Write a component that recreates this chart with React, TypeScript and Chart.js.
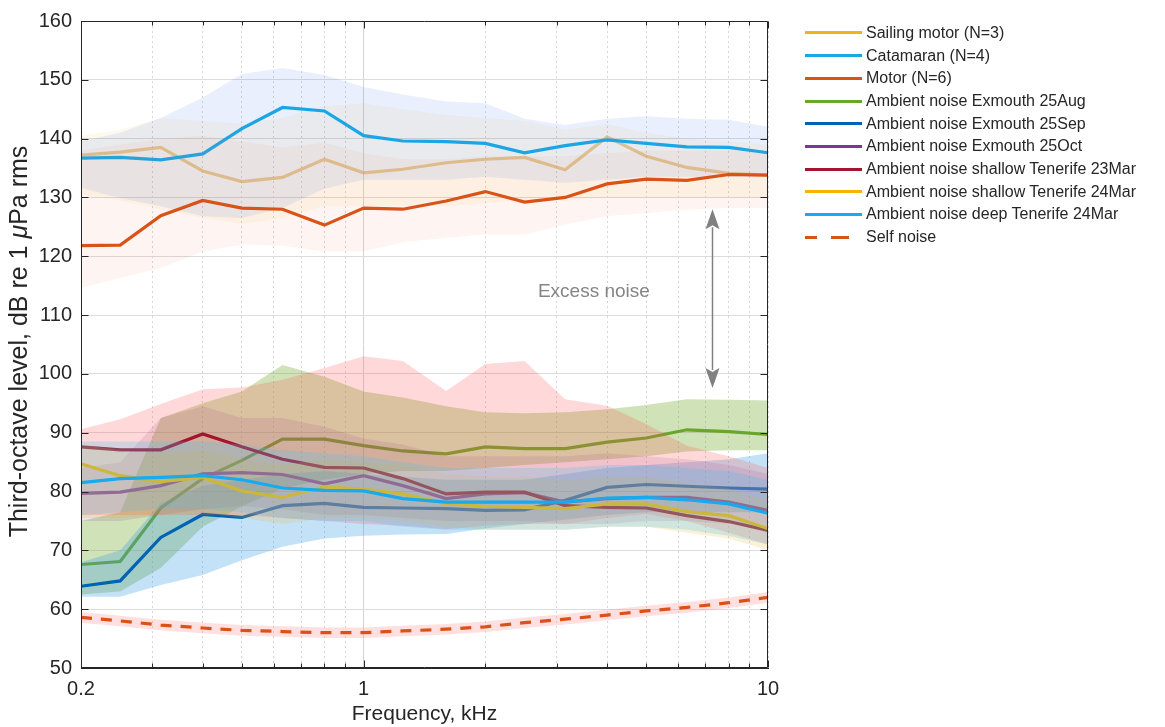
import React, { useEffect, useRef } from 'react';
import { Chart, registerables } from 'chart.js';

Chart.register(...registerables);

// Third-octave band centre frequencies, kHz
const freqKHz = [0.2, 0.25, 0.315, 0.4, 0.5, 0.63, 0.8, 1, 1.25, 1.6, 2, 2.5, 3.15, 4, 5, 6.3, 8, 10];

// Vessel recordings (median and spread), dB re 1 uPa rms
const sailingMotor = [137.2, 137.7, 138.5, 134.5, 132.7, 133.4, 136.5, 134.2, 134.8, 135.9, 136.5, 136.8, 134.7, 140.3, 137.0, 135.1, 134.1, 133.8];
const sailingMotorHi = [140.5, 141.5, 143.5, 143, 142.5, 143.5, 145.5, 146, 145, 144, 143.5, 143, 141.5, 142.5, 141, 140, 139.5, 139];
const sailingMotorLo = [130.5, 129.5, 128, 126.5, 125.5, 126.5, 128.5, 128.5, 128.5, 128.5, 129, 129.5, 129.5, 130, 130, 130, 130, 130];

const catamaran = [136.7, 136.8, 136.4, 137.4, 141.7, 145.3, 144.7, 140.5, 139.6, 139.5, 139.2, 137.6, 138.8, 139.8, 139.2, 138.6, 138.5, 137.6];
const catamaranHi = [139.5, 141, 143.5, 147, 151, 152, 150.8, 148.8, 147.5, 146.3, 146, 143.4, 142.3, 143.4, 143.8, 143.4, 143.2, 142];
const catamaranLo = [131.6, 129.9, 128.5, 126.8, 126.5, 128.2, 131.5, 133, 133, 133, 133.5, 133, 132.5, 133, 133.5, 133.5, 133.5, 133.5];

const motor = [121.8, 121.9, 126.9, 129.5, 128.2, 128.0, 125.3, 128.2, 128.0, 129.4, 131.0, 129.2, 130.0, 132.3, 133.1, 132.9, 133.9, 133.8];
const motorHi = [138, 139, 140, 140.5, 139.5, 138.5, 139.3, 137.5, 136.5, 136.5, 137, 137, 137, 137.5, 138, 138, 138, 138];
const motorLo = [114.6, 116.3, 118, 120.8, 122, 121.8, 120.8, 120.8, 122.4, 123.1, 123.7, 123.7, 125.4, 126.8, 127.3, 127.9, 128.2, 128.2];

// Ambient noise recordings
const exmouthAug = [67.6, 68.1, 77.2, 82.2, 85.3, 88.9, 88.9, 87.8, 86.9, 86.4, 87.6, 87.3, 87.3, 88.4, 89.1, 90.5, 90.2, 89.7];
const exmouthAugHi = [75, 76.5, 92.5, 95, 97, 101.5, 99.5, 97, 96, 94.5, 93.5, 93.3, 93.5, 94, 94.7, 95.7, 95.6, 95.5];
const exmouthAugLo = [62.5, 63, 67, 74, 77.5, 80.5, 82, 83, 83.5, 83.5, 84, 84.5, 85, 85.5, 86, 86.8, 87, 87];

const exmouthSep = [63.9, 64.8, 72.2, 76.1, 75.6, 77.6, 78.0, 77.3, 77.2, 77.1, 76.8, 76.9, 78.5, 80.7, 81.2, 80.9, 80.6, 80.4];
const exmouthSepHi = [68, 70, 78, 81, 82, 83, 83.5, 83, 82.5, 82, 82, 82, 83, 84, 84.5, 85, 85.5, 86.5];
const exmouthSepLo = [62.1, 62.1, 64.1, 65.8, 68.3, 70.6, 72, 72.5, 72.7, 72.8, 73.7, 74.5, 75.2, 76, 76.5, 76.5, 76.5, 76.5];

const exmouthOct = [79.7, 79.9, 81.0, 83.0, 83.2, 82.9, 81.3, 82.7, 81.0, 78.8, 79.6, 79.8, 78.2, 78.8, 79.0, 79.0, 78.2, 76.8];
const exmouthOctHi = [84, 85, 92.5, 94.5, 92.5, 92.5, 91, 89, 88, 86, 86, 86, 86, 86.5, 86, 85.5, 84.5, 83];
const exmouthOctLo = [75, 75, 76, 77, 77.5, 77, 76, 76, 75.5, 75, 75, 75, 74.5, 74.5, 75, 75, 74.5, 74];

const tenerifeShallow23 = [87.6, 87.1, 87.1, 89.8, 87.6, 85.5, 84.1, 84.0, 82.2, 79.6, 79.9, 79.9, 77.6, 77.3, 77.2, 75.9, 74.9, 73.4];
const tenerifeShallow23Hi = [90.6, 92.3, 94.9, 97.4, 97.7, 99, 101, 103, 102.2, 97.1, 101.7, 102.2, 95.7, 94.6, 91.5, 87.8, 86, 84];
const tenerifeShallow23Lo = [76, 76, 76, 76, 76, 75.5, 75, 74.5, 74.2, 73.6, 74.2, 74.5, 74.5, 75.5, 76.2, 75, 73, 71];

const tenerifeShallow24 = [84.7, 82.7, 81.7, 82.4, 80.1, 79.0, 80.8, 80.4, 79.6, 77.9, 77.5, 77.3, 77.1, 77.9, 77.9, 76.6, 75.9, 73.7];
const tenerifeShallow24Hi = [88, 87, 86.5, 87, 85.5, 84.5, 85.5, 85, 84.5, 83, 82.5, 82.5, 82, 82.5, 82.5, 81.5, 80.5, 78.5];
const tenerifeShallow24Lo = [75.5, 75.5, 76, 76.5, 75.5, 74.5, 75.5, 75.5, 75, 74, 73.5, 73.5, 73.5, 74, 74, 73, 72, 70];

const tenerifeDeep24 = [81.5, 82.2, 82.4, 82.7, 82.0, 80.6, 80.2, 80.1, 78.8, 78.2, 78.2, 78.2, 78.2, 78.9, 79.0, 78.6, 77.9, 76.3];
const tenerifeDeep24Hi = [88.5, 88.5, 88.5, 88.5, 88, 87, 86.5, 86, 85, 84, 84, 84, 84, 84.5, 84.5, 84, 83.5, 82];
const tenerifeDeep24Lo = [76, 76.5, 77, 77, 76.5, 75.5, 75, 75, 74, 73.5, 73.5, 73.5, 73.5, 74, 74, 73.5, 72.5, 71];

// Recorder self noise
const selfNoise = [58.6, 58.0, 57.3, 56.8, 56.4, 56.2, 56.0, 56.0, 56.3, 56.6, 57.0, 57.7, 58.3, 59.0, 59.7, 60.3, 61.1, 62.0];
const selfNoiseHi = [59.5, 58.9, 58.2, 57.7, 57.3, 57.1, 56.9, 56.9, 57.2, 57.5, 57.9, 58.6, 59.2, 59.9, 60.6, 61.2, 62.0, 62.9];
const selfNoiseLo = [57.7, 57.1, 56.4, 55.9, 55.5, 55.3, 55.1, 55.1, 55.4, 55.7, 56.1, 56.8, 57.4, 58.1, 58.8, 59.4, 60.2, 61.1];

// Axis ticks
const xTickValues = [0.2, 0.3, 0.4, 0.5, 0.6, 0.7, 0.8, 0.9, 1, 2, 3, 4, 5, 6, 7, 8, 9, 10];
const xTickLabels: Record<string, string> = { '0.2': '0.2', '1': '1', '10': '10' };
const yMin = 50;
const yMax = 160;
const yStep = 10;

// Axis titles; the unit symbol in the y title is set in italics
const xTitle = 'Frequency, kHz';
const yTitleParts = [
  { text: 'Third-octave level, dB re 1 ', italic: false },
  { text: 'μ', italic: true },
  { text: 'Pa rms', italic: false },
];

// "Excess noise" annotation
const excessLabel = 'Excess noise';
const excessLabelAt = { x: 3.71, y: 113.9 };
const excessArrow = { x: 7.27, top: 128, bottom: 97.6 };

type Series = {
  label: string;
  line: number[];
  hi: number[];
  lo: number[];
  color: string;
  plotColor?: string;
  band: string;
  dash?: number[];
};

const series: Series[] = [
  { label: 'Sailing motor (N=3)', line: sailingMotor, hi: sailingMotorHi, lo: sailingMotorLo, color: '#f0b21e', plotColor: 'rgba(232,172,70,0.62)', band: 'rgba(237,177,32,0.08)' },
  { label: 'Catamaran (N=4)', line: catamaran, hi: catamaranHi, lo: catamaranLo, color: '#1aa6e6', band: 'rgba(70,120,230,0.12)' },
  { label: 'Motor (N=6)', line: motor, hi: motorHi, lo: motorLo, color: '#d95319', band: 'rgba(235,120,80,0.07)' },
  { label: 'Ambient noise Exmouth 25Aug', line: exmouthAug, hi: exmouthAugHi, lo: exmouthAugLo, color: '#6aa52c', band: 'rgba(119,172,48,0.35)' },
  { label: 'Ambient noise Exmouth 25Sep', line: exmouthSep, hi: exmouthSepHi, lo: exmouthSepLo, color: '#0062b3', band: 'rgba(60,160,230,0.30)' },
  { label: 'Ambient noise Exmouth 25Oct', line: exmouthOct, hi: exmouthOctHi, lo: exmouthOctLo, color: '#7e3595', band: 'rgba(126,47,142,0.14)' },
  { label: 'Ambient noise shallow Tenerife 23Mar', line: tenerifeShallow23, hi: tenerifeShallow23Hi, lo: tenerifeShallow23Lo, color: '#a2142f', band: 'rgba(255,80,80,0.22)' },
  { label: 'Ambient noise shallow Tenerife 24Mar', line: tenerifeShallow24, hi: tenerifeShallow24Hi, lo: tenerifeShallow24Lo, color: '#f5b400', band: 'rgba(237,177,32,0.18)' },
  { label: 'Ambient noise deep Tenerife 24Mar', line: tenerifeDeep24, hi: tenerifeDeep24Hi, lo: tenerifeDeep24Lo, color: '#19a9ed', band: 'rgba(77,190,238,0.25)' },
  { label: 'Self noise', line: selfNoise, hi: selfNoiseHi, lo: selfNoiseLo, color: '#d95319', band: 'rgba(255,130,130,0.26)', dash: [11, 9] },
];

const FONT = '"Liberation Sans", Arial, Helvetica, sans-serif';
const INK = '#262626';

const toPoints = (ys: number[]) => ys.map((y, i) => ({ x: freqKHz[i], y }));

function buildDatasets() {
  const out: any[] = [];
  const n = series.length;
  series.forEach((s, k) => {
    // each series: spread band first, then its line; later series sit on top
    const base = 3 * (n - k) + 10;
    out.push({
      label: s.label + ' upper',
      data: toPoints(s.hi),
      borderWidth: 0,
      pointRadius: 0,
      backgroundColor: s.band,
      fill: '+1',
      order: base,
    });
    out.push({
      label: s.label + ' lower',
      data: toPoints(s.lo),
      borderWidth: 0,
      pointRadius: 0,
      fill: false,
      order: base,
    });
    out.push({
      label: s.label,
      data: toPoints(s.line),
      borderColor: s.plotColor || s.color,
      borderWidth: 3.2,
      borderDash: s.dash || [],
      pointRadius: 0,
      fill: false,
      tension: 0,
      order: base - 1,
    });
  });
  return out;
}

const framePlugin = {
  id: 'frameAndNotes',
  afterDraw(chart: any) {
    // rotated y-axis title with an italic unit prefix
    const { ctx, chartArea: a } = chart;
    const size = 25;
    const fontFor = (italic: boolean) => `${italic ? 'italic ' : ''}${size}px ${FONT}`;
    let total = 0;
    yTitleParts.forEach((p) => {
      ctx.font = fontFor(p.italic);
      total += ctx.measureText(p.text).width;
    });
    ctx.save();
    ctx.translate(20, (a.top + a.bottom) / 2 - 3);
    ctx.rotate(-Math.PI / 2);
    ctx.fillStyle = INK;
    ctx.textBaseline = 'middle';
    ctx.textAlign = 'left';
    let cx = -total / 2;
    yTitleParts.forEach((p) => {
      ctx.font = fontFor(p.italic);
      ctx.fillText(p.text, cx, 0);
      cx += ctx.measureText(p.text).width;
    });
    ctx.restore();
  },
  afterDatasetsDraw(chart: any) {
    const { ctx, chartArea: a, scales } = chart;
    const x = scales.x;
    const y = scales.y;
    ctx.save();

    // Excess-noise double arrow
    const ax = Math.round(x.getPixelForValue(excessArrow.x)) + 0.5;
    const yT = y.getPixelForValue(excessArrow.top);
    const yB = y.getPixelForValue(excessArrow.bottom);
    const headL = 20;
    const headW = 7;
    ctx.strokeStyle = '#808080';
    ctx.fillStyle = '#808080';
    ctx.lineWidth = 1.5;
    ctx.beginPath();
    ctx.moveTo(ax, yT + headL - 2);
    ctx.lineTo(ax, yB - headL + 2);
    ctx.stroke();
    ctx.beginPath();
    ctx.moveTo(ax, yT);
    ctx.lineTo(ax - headW, yT + headL);
    ctx.lineTo(ax, yT + headL - 4);
    ctx.lineTo(ax + headW, yT + headL);
    ctx.closePath();
    ctx.fill();
    ctx.beginPath();
    ctx.moveTo(ax, yB);
    ctx.lineTo(ax - headW, yB - headL);
    ctx.lineTo(ax, yB - headL + 4);
    ctx.lineTo(ax + headW, yB - headL);
    ctx.closePath();
    ctx.fill();

    ctx.fillStyle = '#858585';
    ctx.font = `19px ${FONT}`;
    ctx.textAlign = 'center';
    ctx.textBaseline = 'middle';
    ctx.fillText(excessLabel, x.getPixelForValue(excessLabelAt.x), y.getPixelForValue(excessLabelAt.y));

    // Box and inward tick marks
    const L = Math.round(a.left) + 0.5;
    const R = Math.round(a.right) - 0.5;
    const T = Math.round(a.top) + 0.5;
    const B = Math.round(a.bottom) - 0.5;
    ctx.strokeStyle = INK;
    ctx.lineWidth = 1;
    ctx.beginPath();
    ctx.moveTo(L, T);
    ctx.lineTo(R, T);
    ctx.lineTo(R, B);
    ctx.lineTo(L, B);
    ctx.closePath();
    ctx.stroke();

    ctx.beginPath();
    for (let v = yMin; v <= yMax; v += yStep) {
      const py = Math.round(y.getPixelForValue(v)) + 0.5;
      ctx.moveTo(L, py);
      ctx.lineTo(L + 7, py);
      ctx.moveTo(R, py);
      ctx.lineTo(R - 7, py);
    }
    xTickValues.forEach((v) => {
      const px = Math.round(x.getPixelForValue(v)) + 0.5;
      const len = xTickLabels[String(v)] !== undefined ? 7 : 4;
      ctx.moveTo(px, B);
      ctx.lineTo(px, B - len);
      ctx.moveTo(px, T);
      ctx.lineTo(px, T + len);
    });
    ctx.stroke();
    ctx.restore();
  },
};

export default function App() {
  const canvasRef = useRef<HTMLCanvasElement | null>(null);

  useEffect(() => {
    const canvas = canvasRef.current;
    if (!canvas) return;
    const chart = new Chart(canvas, {
      type: 'line',
      data: { datasets: buildDatasets() },
      plugins: [framePlugin],
      options: {
        responsive: false,
        animation: false,
        events: [],
        layout: { padding: { left: 0, top: 19, right: 397, bottom: 0 } },
        plugins: {
          legend: { display: false },
          tooltip: { enabled: false },
          filler: { propagate: false },
        },
        scales: {
          x: {
            type: 'logarithmic',
            min: 0.2,
            max: 10,
            afterBuildTicks: (scale: any) => {
              scale.ticks = xTickValues.map((v) => ({ value: v, major: v === 1 }));
            },
            afterFit: (scale: any) => {
              scale.height = 59;
            },
            ticks: {
              autoSkip: false,
              maxRotation: 0,
              minRotation: 0,
              padding: 9,
              color: INK,
              font: { family: FONT, size: 20 },
              callback: (value: any) => xTickLabels[String(value)] ?? '',
            },
            grid: {
              drawTicks: false,
              lineWidth: 1,
              color: (ctx: any) => (ctx.tick && ctx.tick.value === 1 ? '#d4d4d4' : '#d6d6d6'),
            },
            border: {
              display: true,
              color: INK,
              width: 1,
              dash: (ctx: any) => (ctx.tick && ctx.tick.value !== 1 ? [2, 3] : []),
            },
            title: {
              display: true,
              text: xTitle,
              color: INK,
              font: { family: FONT, size: 21 },
              padding: { top: 0, bottom: 0 },
            },
          },
          y: {
            type: 'linear',
            min: yMin,
            max: yMax,
            afterFit: (scale: any) => {
              scale.width = 81;
            },
            ticks: {
              stepSize: yStep,
              padding: 9,
              color: INK,
              font: { family: FONT, size: 20 },
            },
            grid: {
              drawTicks: false,
              color: '#dcdcdc',
              lineWidth: 1,
            },
            border: { display: true, color: INK, width: 1 },
            title: { display: false },
          },
        },
      } as any,
    });
    return () => chart.destroy();
  }, []);

  return (
    <div style={{ position: 'fixed', left: 0, top: 0, width: 1165, height: 727, background: '#ffffff' }}>
      <canvas ref={canvasRef} width={1165} height={727} style={{ display: 'block', width: 1165, height: 727 }} />
      <div style={{ position: 'absolute', left: 805, top: 21.6, fontFamily: FONT, fontSize: 16, color: INK }}>
        {series.map((s) => (
          <div key={s.label} style={{ display: 'flex', alignItems: 'center', height: 22.7, whiteSpace: 'nowrap' }}>
            <div style={{ position: 'relative', width: 57, height: 3, marginRight: 4 }}>
              {s.dash ? (
                <>
                  <div style={{ position: 'absolute', left: 0, top: 0, width: 12, height: 3, background: s.color }} />
                  <div style={{ position: 'absolute', left: 26, top: 0, width: 18, height: 3, background: s.color }} />
                </>
              ) : (
                <div style={{ position: 'absolute', left: 0, top: 0, width: 57, height: 3, background: s.color }} />
              )}
            </div>
            <span>{s.label}</span>
          </div>
        ))}
      </div>
    </div>
  );
}
